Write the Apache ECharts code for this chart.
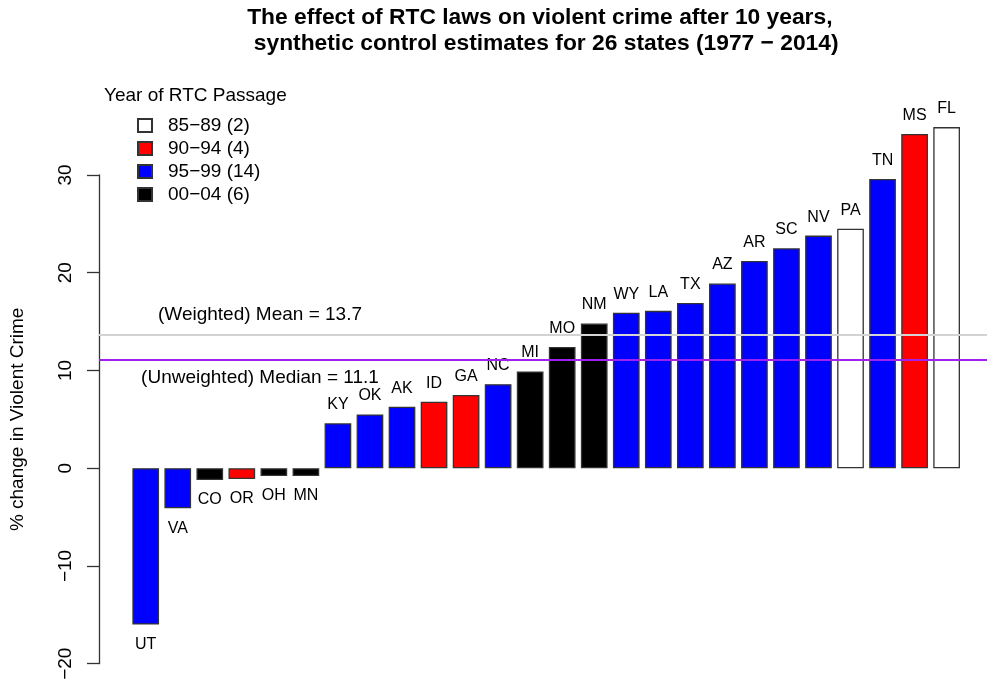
<!DOCTYPE html>
<html>
<head>
<meta charset="utf-8">
<script src="https://cdn.jsdelivr.net/npm/echarts@6/dist/echarts.min.js"></script>
<style>
  html, body { margin: 0; padding: 0; background: #ffffff; }
  #chart { width: 987px; height: 684px; }
</style>
</head>
<body>
<div id="chart"></div>
<script>
// States ordered by estimated % change in violent crime ten years after RTC passage
const states = ['UT','VA','CO','OR','OH','MN','KY','OK','AK','ID','GA','NC','MI','MO','NM','WY','LA','TX','AZ','AR','SC','NV','PA','TN','MS','FL'];
const pctChange = [-16.0,-4.1,-1.2,-1.1,-0.8,-0.8,4.6,5.5,6.3,6.8,7.5,8.6,9.9,12.4,14.8,15.9,16.1,16.9,18.9,21.2,22.5,23.8,24.5,29.6,34.2,34.9];
const passagePeriod = ['95−99','95−99','00−04','90−94','00−04','00−04','95−99','95−99','95−99','90−94','90−94','95−99','00−04','00−04','00−04','95−99','95−99','95−99','95−99','95−99','95−99','95−99','85−89','95−99','90−94','85−89'];
const periods = ['85−89','90−94','95−99','00−04'];
const periodColors = ['#ffffff','#ff0000','#0000ff','#000000'];
const yTicks = [-20,-10,0,10,20,30];
const weightedMean = 13.7;
const unweightedMedian = 11.1;

const FONT = '"Liberation Sans", Arial, Helvetica, sans-serif';
const chart = echarts.init(document.getElementById('chart'), null, { renderer: 'canvas' });

const series = periods.map((p, k) => {
  const count = passagePeriod.filter(x => x === p).length;
  const data = [];
  states.forEach((s, i) => {
    if (passagePeriod[i] !== p) return;
    const neg = pctChange[i] < 0;
    data.push({
      name: s,
      value: [i, pctChange[i]],
      label: { position: neg ? 'bottom' : 'top', distance: neg ? 12 : 10.5 }
    });
  });
  return {
    type: 'bar',
    name: p + ' (' + count + ')',
    data: data,
    barWidth: 26.7,
    barGap: '-100%',
    clip: false,
    z: 2,
    itemStyle: { color: periodColors[k], borderColor: '#333333', borderWidth: 1.3 },
    label: {
      show: true,
      formatter: prm => prm.name,
      fontSize: 16,
      color: '#000000',
      fontFamily: FONT
    }
  };
});

// Reference lines for the weighted mean and unweighted median
series.push({
  type: 'line',
  name: 'refs',
  data: [],
  silent: true,
  markLine: {
    silent: true,
    z: 10,
    symbol: ['none', 'none'],
    label: { show: false },
    lineStyle: { type: 'solid', width: 2 },
    data: [
      { yAxis: weightedMean, lineStyle: { color: '#d3d3d3', type: 'solid', width: 2 } },
      { yAxis: unweightedMedian, lineStyle: { color: '#a020f0', type: 'solid', width: 2 } }
    ]
  }
});

chart.setOption({
  animation: false,
  backgroundColor: '#ffffff',
  textStyle: { fontFamily: FONT },
  title: [
    {
      text: 'The effect of RTC laws on violent crime after 10 years, \n synthetic control estimates for 26 states (1977 − 2014)',
      left: 543,
      top: 5,
      textAlign: 'center',
      padding: 0,
      textStyle: { fontSize: 22.8, fontWeight: 'bold', lineHeight: 26, color: '#000000', fontFamily: FONT }
    },
    {
      text: 'Year of RTC Passage',
      left: 104,
      top: 86,
      padding: 0,
      textStyle: { fontSize: 19, fontWeight: 'normal', color: '#000000', fontFamily: FONT }
    }
  ],
  legend: {
    orient: 'vertical',
    left: 137,
    top: 116,
    padding: 0,
    itemWidth: 14,
    itemHeight: 13,
    itemGap: 4,
    icon: 'rect',
    selectedMode: false,
    data: series.slice(0, periods.length).map(s => s.name),
    textStyle: { fontSize: 19, color: '#000000', fontFamily: FONT, padding: [0, 0, 0, 11] }
  },
  grid: { left: 99, right: 0, top: 175, bottom: 20.3, containLabel: false },
  xAxis: {
    type: 'value',
    min: -1.458,
    max: 26.26,
    show: false
  },
  yAxis: {
    type: 'value',
    min: yTicks[0],
    max: yTicks[yTicks.length - 1],
    interval: yTicks[1] - yTicks[0],
    axisLine: { show: true, onZero: false, lineStyle: { color: '#333333', width: 1.3 } },
    axisTick: { show: true, length: 12, lineStyle: { color: '#333333', width: 1.3 } },
    splitLine: { show: false },
    axisLabel: {
      rotate: 90,
      margin: 24,
      fontSize: 19,
      color: '#000000',
      fontFamily: FONT,
      formatter: v => String(v).replace('-', '−')
    },
    name: '% change in Violent Crime',
    nameLocation: 'middle',
    nameRotate: 90,
    nameGap: 72,
    nameTextStyle: { fontSize: 19, color: '#000000', fontFamily: FONT }
  },
  series: series
});

// Text annotations for the two reference lines
const yMean = chart.convertToPixel({ yAxisIndex: 0 }, weightedMean);
const yMedian = chart.convertToPixel({ yAxisIndex: 0 }, unweightedMedian);
chart.setOption({
  graphic: [
    {
      type: 'text', x: 260, y: yMean - 20, z: 20,
      style: { text: '(Weighted) Mean = ' + weightedMean.toFixed(1), fontSize: 19, fill: '#000000', fontFamily: FONT, align: 'center', verticalAlign: 'middle' }
    },
    {
      type: 'text', x: 260, y: yMedian + 18, z: 20,
      style: { text: '(Unweighted) Median = ' + unweightedMedian.toFixed(1), fontSize: 19, fill: '#000000', fontFamily: FONT, align: 'center', verticalAlign: 'middle' }
    }
  ]
});
</script>
</body>
</html>
